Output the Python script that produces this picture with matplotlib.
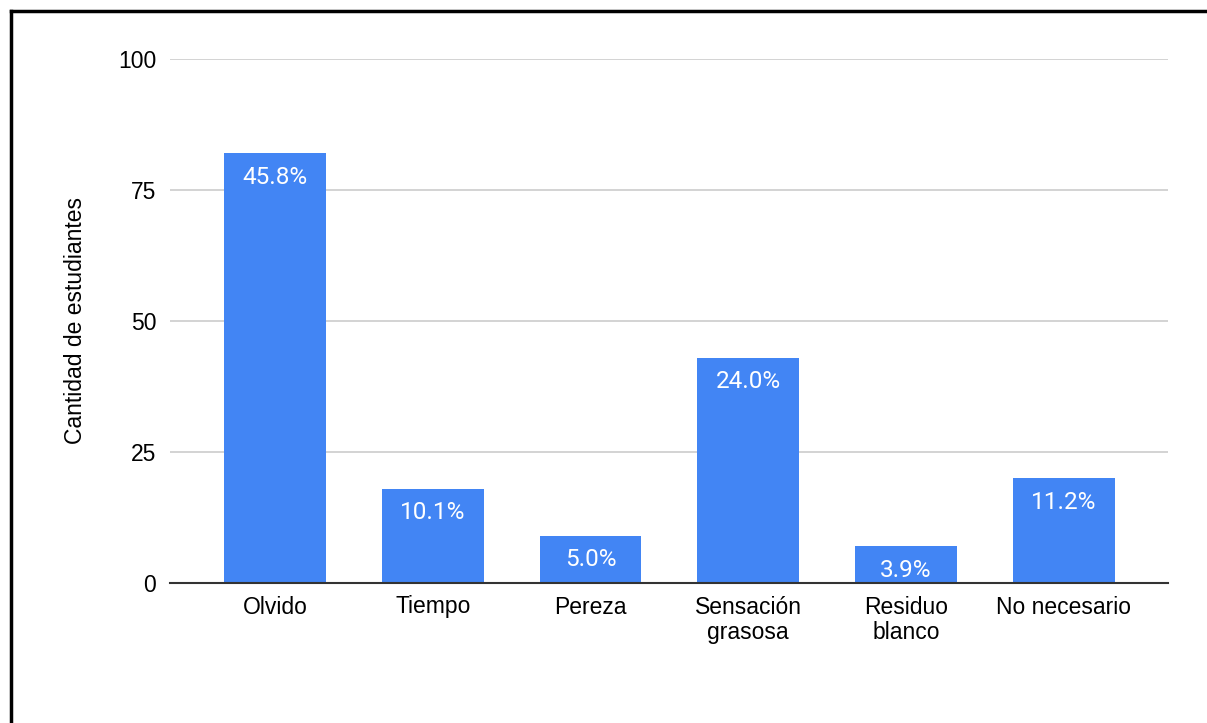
import matplotlib
matplotlib.use("Agg")
import matplotlib.pyplot as plt
from matplotlib.lines import Line2D

categories = ["Olvido", "Tiempo", "Pereza", "Sensación\ngrasosa", "Residuo\nblanco", "No necesario"]
counts = [82, 18, 9, 43, 7, 20]
pct_labels = ["45.8%", "10.1%", "5.0%", "24.0%", "3.9%", "11.2%"]
yticks = [0, 25, 50, 75, 100]

plt.rcParams["font.family"] = ["Liberation Sans", "DejaVu Sans"]

fig = plt.figure(figsize=(12.07, 7.23), dpi=100)
ax = fig.add_axes([170 / 1207, 1 - 583 / 723, (1168 - 170) / 1207, (583 - 59) / 723])

x = list(range(len(categories)))
ax.bar(x, counts, width=0.646, color="#4285F4", zorder=3)
for xi, v, lab in zip(x, counts, pct_labels):
    ax.annotate(lab, (xi, v), xytext=(0, -9), textcoords="offset points",
                ha="center", va="top", color="white", fontsize=17.5,
                family=["Roboto", "DejaVu Sans"], zorder=4)

ax.set_xlim(-0.665, 5.66)
ax.set_ylim(0, 100)
ax.set_yticks(yticks)
ax.set_xticks(x)
ax.set_xticklabels(categories, fontsize=16.5, linespacing=1.15)
ax.tick_params(axis="y", length=0, pad=10, labelsize=16.5)
ax.tick_params(axis="x", length=0, pad=9)
ax.grid(axis="y", color="#cccccc", linewidth=1.2, zorder=0)
for s in ["top", "right", "left"]:
    ax.spines[s].set_visible(False)
ax.spines["bottom"].set_color("#333333")
ax.spines["bottom"].set_linewidth(1.5)
ax.spines["bottom"].set_zorder(5)
ax.set_ylabel("Cantidad de estudiantes", fontsize=16.5, labelpad=22)

# screenshot frame (top and left edges)
fig.add_artist(Line2D([11 / 1207, 1], [1 - 11 / 723, 1 - 11 / 723], color="black", linewidth=2.5, transform=fig.transFigure))
fig.add_artist(Line2D([11 / 1207, 11 / 1207], [0, 1 - 11 / 723], color="black", linewidth=2.5, transform=fig.transFigure))

fig.savefig("out.png", dpi=100)
